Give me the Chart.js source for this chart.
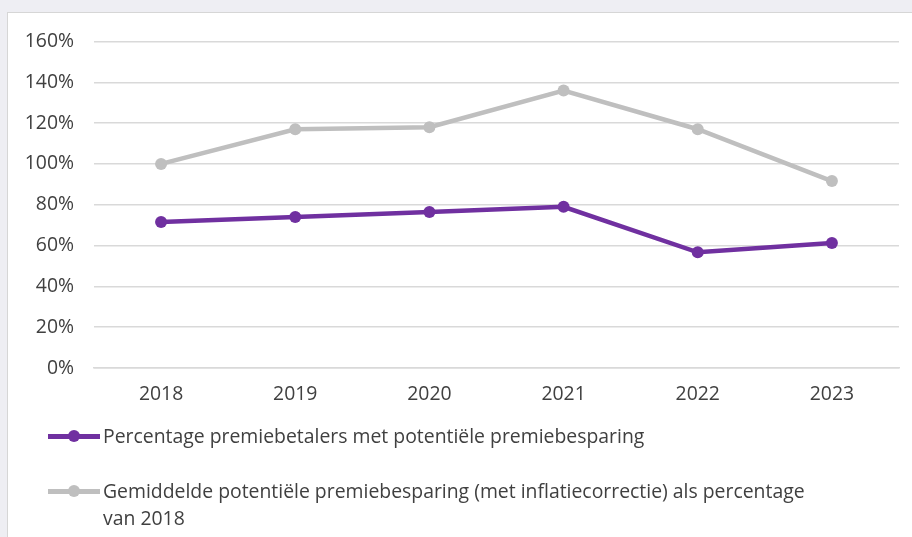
<!DOCTYPE html>
<html>
<head>
<meta charset="utf-8">
<script src="https://cdn.jsdelivr.net/npm/chart.js@4/dist/chart.umd.min.js"></script>
<style>
  html, body { margin: 0; padding: 0; width: 912px; height: 537px; overflow: hidden; background: #eeeef3; }
  #frame { position: absolute; left: 7px; top: 12px; width: 910px; height: 530px; background: #fff; border-left: 1.5px solid #d6d6d6; border-top: 1.5px solid #d6d6d6; }
  #wrap { position: absolute; left: 0; top: 0; width: 912px; height: 537px; }
  #legend { position: absolute; left: 48px; top: 422px; font-family: "Open Sans", sans-serif; font-size: 19.4px; color: #404040; }
  .item { position: relative; padding-left: 55px; line-height: 27px; width: 730px; }
  .item + .item { margin-top: 28px; }
  .sym { position: absolute; left: 0; top: 12px; width: 52px; height: 4.5px; }
  .dot { position: absolute; left: 20px; top: -4px; width: 12px; height: 12px; border-radius: 50%; }
</style>
</head>
<body>
<div id="frame"></div>
<div id="wrap"><canvas id="c" width="912" height="537"></canvas></div>
<div id="legend"></div>
<script>
const categories = ["2018", "2019", "2020", "2021", "2022", "2023"];
const seriesNames = [
  "Percentage premiebetalers met potentiële premiebesparing",
  "Gemiddelde potentiële premiebesparing (met inflatiecorrectie) als percentage van 2018"
];
const purpleValues = [71.5, 74, 76.5, 79, 56.7, 61.3];
const grayValues = [100, 117, 118, 136, 117, 91.6];
const yTicks = [0, 20, 40, 60, 80, 100, 120, 140, 160];
const colors = ["#7030a0", "#bfbfbf"];

const FONT = "'Open Sans', sans-serif";
const chart = new Chart(document.getElementById("c"), {
  type: "line",
  data: {
    labels: categories,
    datasets: [
      { label: seriesNames[0], data: purpleValues, borderColor: colors[0], backgroundColor: colors[0],
        borderWidth: 4.5, pointRadius: 6, pointHoverRadius: 6, pointBorderWidth: 0, tension: 0 },
      { label: seriesNames[1], data: grayValues, borderColor: colors[1], backgroundColor: colors[1],
        borderWidth: 4.5, pointRadius: 6, pointHoverRadius: 6, pointBorderWidth: 0, tension: 0 }
    ]
  },
  options: {
    responsive: false,
    animation: false,
    devicePixelRatio: 1,
    layout: { padding: { top: 41.5, right: 13, left: 0, bottom: 0 } },
    plugins: { legend: { display: false }, tooltip: { enabled: false } },
    scales: {
      x: {
        offset: true,
        grid: { display: false, drawTicks: false },
        border: { display: true, color: "#d9d9d9", width: 1.5 },
        ticks: { color: "#404040", font: { family: FONT, size: 19.4 }, padding: 15 },
        afterFit: s => { s.height = 169; }
      },
      y: {
        min: 0, max: 160,
        afterBuildTicks: s => { s.ticks = yTicks.map(v => ({ value: v })); },
        grid: { color: "#d9d9d9", lineWidth: 1.5, drawTicks: false },
        border: { display: false },
        ticks: { color: "#404040", font: { family: FONT, size: 19.4 }, padding: 20,
                 callback: v => v + "%" },
        afterFit: s => { s.width = 94; }
      }
    }
  }
});

const leg = document.getElementById("legend");
chart.data.datasets.forEach((ds, i) => {
  const it = document.createElement("div");
  it.className = "item";
  const sym = document.createElement("div");
  sym.className = "sym";
  sym.style.background = ds.borderColor;
  const dot = document.createElement("div");
  dot.className = "dot";
  dot.style.background = ds.borderColor;
  sym.appendChild(dot);
  it.appendChild(sym);
  it.appendChild(document.createTextNode(ds.label));
  leg.appendChild(it);
});
</script>
</body>
</html>
